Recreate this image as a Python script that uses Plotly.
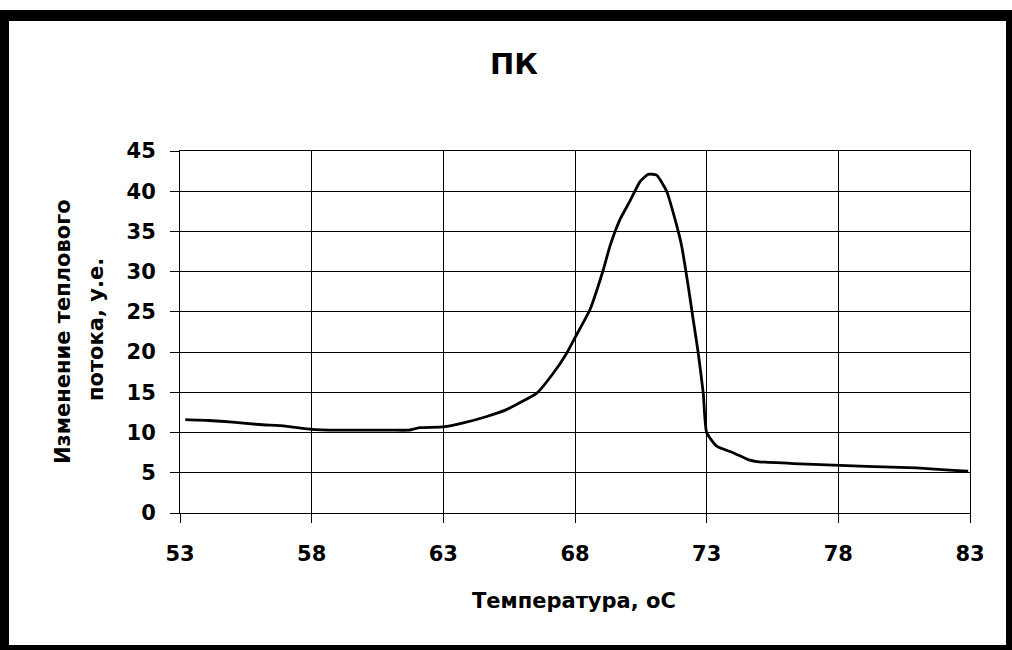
import plotly.graph_objects as go

# Data
temperature = [53.2, 54.1, 55.0, 56.0, 57.0, 58.0, 59.0, 60.0, 61.0, 61.7, 62.1, 63.0,
               63.76, 64.65, 65.4, 65.9, 66.55, 67.18, 67.69, 68.0, 68.57, 69.08, 69.33,
               69.71, 70.09, 70.47, 70.78, 71.10, 71.48, 71.80, 72.05, 72.30, 72.49,
               72.68, 72.87, 73.0, 73.38, 74.0, 74.6, 74.9, 76.55, 79.07, 80.97, 82.36, 82.93]
heat_flow = [11.6, 11.5, 11.3, 11.0, 10.8, 10.4, 10.3, 10.3, 10.3, 10.3, 10.6, 10.7,
             11.2, 12.0, 12.85, 13.7, 14.9, 17.4, 19.9, 21.8, 25.3, 30.3, 33.2,
             36.5, 38.8, 41.2, 42.1, 42.0, 40.0, 36.5, 33.2, 28.2, 24.0,
             19.9, 14.9, 10.0, 8.3, 7.5, 6.6, 6.4, 6.1, 5.8, 5.6, 5.3, 5.2]
x_ticks = [53, 58, 63, 68, 73, 78, 83]
y_ticks = [0, 5, 10, 15, 20, 25, 30, 35, 40, 45]
title_text = "ПК"
x_title = "Температура, оС"
y_title_1 = "Изменение теплового"
y_title_2 = "потока, у.е."

W, H = 1012, 650
L, R, T, B = 180, 970, 151, 513
FONT = "DejaVu Sans"


def px(x):
    return (x - L) / (R - L)


def py(y):
    return (B - y) / (B - T)


fig = go.Figure()
fig.add_trace(go.Scatter(x=temperature, y=heat_flow, mode="lines",
                         line=dict(color="black", width=2.8, shape="spline", smoothing=0.5),
                         hoverinfo="skip", showlegend=False))

axis_common = dict(showline=True, linecolor="black", linewidth=1, mirror=True,
                   showgrid=True, gridcolor="black", gridwidth=1, zeroline=False,
                   ticks="outside", ticklen=9, tickcolor="black", tickwidth=1,
                   tickfont=dict(family=FONT, size=21, color="black", weight="bold"))

fig.update_xaxes(range=[53, 83], tickmode="array", tickvals=x_ticks,
                 ticktext=[str(v) for v in x_ticks], ticklabelstandoff=13, **axis_common)
fig.update_yaxes(range=[0, 45], tickmode="array", tickvals=y_ticks,
                 ticktext=[str(v) for v in y_ticks], ticklabelstandoff=10, **axis_common)

shapes = [
    dict(type="rect", xref="paper", yref="paper", x0=px(0), x1=px(W), y0=py(10), y1=py(H),
         fillcolor="black", line=dict(width=0), layer="below"),
    dict(type="rect", xref="paper", yref="paper", x0=px(9), x1=px(1006), y0=py(21), y1=py(645),
         fillcolor="white", line=dict(width=0), layer="below"),
]

annotations = [
    dict(text=title_text, xref="paper", yref="paper", x=px(514), y=py(64),
         xanchor="center", yanchor="middle", showarrow=False,
         font=dict(family=FONT, size=29, color="black", weight="bold")),
    dict(text=x_title, xref="paper", yref="paper", x=px(574), y=py(601),
         xanchor="center", yanchor="middle", showarrow=False,
         font=dict(family=FONT, size=21, color="black", weight="bold")),
    dict(text=y_title_1, xref="paper", yref="paper", x=px(63), y=py(331),
         xanchor="center", yanchor="middle", showarrow=False, textangle=-90,
         font=dict(family=FONT, size=21, color="black", weight="bold")),
    dict(text=y_title_2, xref="paper", yref="paper", x=px(96), y=py(330),
         xanchor="center", yanchor="middle", showarrow=False, textangle=-90,
         font=dict(family=FONT, size=21, color="black", weight="bold")),
]

fig.update_layout(width=W, height=H, autosize=False,
                  margin=dict(l=L, r=W - R, t=T, b=H - B, pad=0),
                  paper_bgcolor="white", plot_bgcolor="white",
                  shapes=shapes, annotations=annotations, showlegend=False)

fig.write_html("out.html", config=dict(displayModeBar=False),
               post_script="document.body.style.margin='0';document.body.style.overflow='hidden';")
